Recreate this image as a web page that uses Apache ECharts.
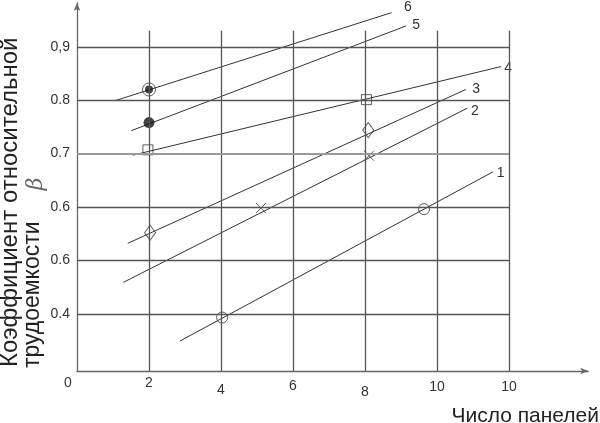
<!DOCTYPE html>
<html><head><meta charset="utf-8">
<script src="https://cdn.jsdelivr.net/npm/echarts@6/dist/echarts.min.js"></script>
<style>html,body{margin:0;padding:0;background:#fff}#c{width:600px;height:423px}</style>
</head><body><div id="c"></div>
<script>
// ---- data ----
var xTickValues = [0, 2, 4, 6, 8, 10, 12];
var xTickLabels = ['0', '2', '4', '6', '8', '10', '10'];
var yTickValues = [0.4, 0.5, 0.6, 0.7, 0.8, 0.9];
var yTickLabels = ['0.4', '0.6', '0.6', '0.7', '0.8', '0,9'];
var lineNames = ['1', '2', '3', '4', '5', '6'];
var line1 = [[2.86, 0.349], [11.56, 0.666]];
var line2 = [[1.29, 0.459], [10.84, 0.785]];
var line3 = [[1.41, 0.532], [10.80, 0.820]];
var line4 = [[1.55, 0.697], [11.78, 0.863]];
var line5 = [[1.51, 0.743], [9.14, 0.939]];
var line6 = [[1.10, 0.800], [8.74, 0.964]];
var points1 = [[4.03, 0.393], [9.64, 0.596]];
var points2 = [[5.11, 0.598], [8.11, 0.696]];
var points3 = [[2.03, 0.552], [8.09, 0.744]];
var points4 = [[1.97, 0.707], [8.04, 0.801]];
var points5 = [[2.0, 0.758]];
var points6 = [[2.0, 0.820]];
var xTitle = 'Число панелей';
var yTitle1 = 'Коэффициент относительной';
var yTitle2 = 'трудоемкости';
var betaSymbol = 'β';

// ---- styles ----
var FONT = '"Liberation Sans", Arial, sans-serif';
var xMin = 0, xMax = 14.2, yMin = 0.2929, yMax = 0.982, gridTop = 0.93;
var lineData = [line1, line2, line3, line4, line5, line6];
var endOffsets = [[3.5, 1.3], [3.8, 2.7], [6.4, -0.3], [3.1, 1.3], [6.1, -1], [12.4, -5.7]];
var xLabelRich = ['z', 'a', 'd', 'b', 'e', 'c', 'c'];

var gridMarks = [];
xTickValues.forEach(function (v) {
  if (v === 0) return;
  gridMarks.push([{coord: [v, yMin]}, {coord: [v, gridTop]}]);
});
yTickValues.forEach(function (v) {
  var item = [{coord: [xMin, v]}, {coord: [xTickValues[xTickValues.length - 1], v]}];
  if (v === 0.7) item[0].lineStyle = {color: '#9a9a9a', width: 2.2};
  gridMarks.push(item);
});

var series = [{
  type: 'line', data: [], silent: true, z: 1,
  markLine: {
    silent: true, symbol: 'none', label: {show: false},
    lineStyle: {color: '#555', width: 1.3, type: 'solid'},
    emphasis: {disabled: true},
    data: gridMarks, animation: false
  }
}];
lineData.forEach(function (d, i) {
  series.push({
    type: 'line', name: lineNames[i], data: d, symbol: 'none', z: 3,
    lineStyle: {color: '#333', width: 1},
    endLabel: {show: true, formatter: lineNames[i], distance: 0, offset: endOffsets[i],
      fontFamily: FONT, fontSize: 14, color: '#333'},
    silent: true
  });
});
function sc(d, sym, size, fill, bw) {
  return {type: 'scatter', data: d, symbol: sym, symbolSize: size, z: 4, silent: true,
    itemStyle: {color: fill, borderColor: '#333', borderWidth: bw}};
}
series.push(sc(points1, 'circle', 11, 'rgba(0,0,0,0)', 1));
series.push(sc(points2, 'path://M0,0L10,10M10,0L0,10', 10, 'rgba(0,0,0,0)', 1));
series.push(sc(points3, 'diamond', [11, 15], 'rgba(0,0,0,0)', 1));
series.push(sc(points4, 'rect', 10, 'rgba(0,0,0,0)', 1));
series.push(sc(points5, 'circle', 11, '#111', 0));
series.push(sc(points6, 'circle', 13, 'rgba(0,0,0,0)', 1));
series.push(sc(points6, 'circle', 8, '#111', 0));

var chart = echarts.init(document.getElementById('c'), null, {renderer: 'canvas'});
chart.setOption({
  animation: false,
  backgroundColor: '#fff',
  grid: {left: 77, right: 11.8, top: 3, bottom: 52, containLabel: false},
  xAxis: {
    type: 'value', min: xMin, max: xMax,
    axisLine: {show: true, onZero: false, symbol: ['none', 'arrow'], symbolSize: [5, 8],
      lineStyle: {color: '#666', width: 1.3}},
    axisTick: {show: false},
    splitLine: {show: false},
    axisLabel: {
      customValues: xTickValues, margin: 5, fontFamily: FONT, fontSize: 14, color: '#333',
      formatter: function (v) {
        var i = xTickValues.indexOf(v);
        return '{' + xLabelRich[i] + '|' + xTickLabels[i] + '}';
      },
      rich: {
        z: {fontFamily: FONT, fontSize: 14, color: '#333', padding: [0, 18, 0, 0]},
        a: {fontFamily: FONT, fontSize: 14, color: '#333'},
        b: {fontFamily: FONT, fontSize: 14, color: '#333', padding: [3, 0, 0, 0]},
        c: {fontFamily: FONT, fontSize: 14, color: '#333', padding: [4, 0, 0, 0]},
        d: {fontFamily: FONT, fontSize: 14, color: '#333', padding: [7, 0, 0, 0]},
        e: {fontFamily: FONT, fontSize: 14, color: '#333', padding: [9, 0, 0, 0]}
      }
    }
  },
  yAxis: {
    type: 'value', min: yMin, max: yMax,
    axisLine: {show: true, onZero: false, symbol: ['none', 'arrow'], symbolSize: [5, 8],
      lineStyle: {color: '#666', width: 1.3}},
    axisTick: {show: false},
    splitLine: {show: false},
    axisLabel: {
      customValues: yTickValues, margin: 7, fontFamily: FONT, fontSize: 14, color: '#333',
      formatter: function (v) {
        for (var i = 0; i < yTickValues.length; i++) {
          if (Math.abs(yTickValues[i] - v) < 1e-6) return yTickLabels[i];
        }
        return '';
      }
    }
  },
  graphic: [
    {type: 'text', x: 599, y: 427, silent: true,
      style: {text: xTitle, font: '21px ' + FONT, fill: '#222', textAlign: 'right', textVerticalAlign: 'bottom'}},
    {type: 'text', x: 22, y: 367, rotation: Math.PI / 2, silent: true,
      style: {text: yTitle1, font: '24px ' + FONT, fill: '#222', textAlign: 'left', textVerticalAlign: 'bottom'}},
    {type: 'text', x: 44, y: 368, rotation: Math.PI / 2, silent: true,
      style: {text: yTitle2, font: '23px ' + FONT, fill: '#222', textAlign: 'left', textVerticalAlign: 'bottom'}},
    {type: 'text', x: 36, y: 184, rotation: Math.PI / 2, silent: true,
      style: {text: betaSymbol, font: 'italic 22px "DejaVu Serif", serif', fill: '#666', textAlign: 'center', textVerticalAlign: 'middle'}}
  ],
  series: series
});
</script></body></html>
